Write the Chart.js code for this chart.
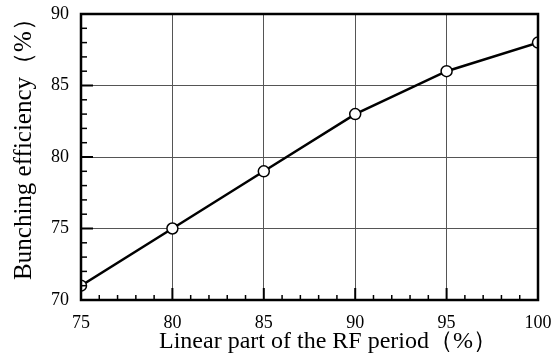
<!DOCTYPE html>
<html>
<head>
<meta charset="utf-8">
<script src="https://cdn.jsdelivr.net/npm/chart.js@4"></script>
<style>
  html, body { margin: 0; padding: 0; background: #fff; }
  #wrap { width: 553px; height: 358px; }
</style>
</head>
<body>
<div id="wrap"><canvas id="chart"></canvas></div>
<script>
const linearPart = [75, 80, 85, 90, 95, 100];
const efficiency = [71, 75, 79, 83, 86, 88];
const xTicks = [75, 80, 85, 90, 95, 100];
const yTicks = [70, 75, 80, 85, 90];
const xTitle = "Linear part of the RF period（%）";
const yTitle = "Bunching efficiency（%）";

const SERIF = "'Liberation Serif', 'Times New Roman', serif";

// frame, inward minor ticks and heavier major tick stubs
const framePlugin = {
  id: "frame",
  afterDatasetsDraw(chart) {
    const { ctx, chartArea: a, scales } = chart;
    ctx.save();
    ctx.strokeStyle = "#000";
    ctx.lineCap = "butt";

    ctx.lineWidth = 1.5;
    for (let v = 76; v < 100; v++) {
      if (v % 5 === 0) continue;
      const px = scales.x.getPixelForValue(v);
      ctx.beginPath();
      ctx.moveTo(px, a.bottom);
      ctx.lineTo(px, a.bottom - 5);
      ctx.stroke();
    }
    for (let v = 71; v < 90; v++) {
      if (v % 5 === 0) continue;
      const py = scales.y.getPixelForValue(v);
      ctx.beginPath();
      ctx.moveTo(a.left, py);
      ctx.lineTo(a.left + 6, py);
      ctx.stroke();
    }

    ctx.lineWidth = 2;
    xTicks.forEach((v) => {
      const px = scales.x.getPixelForValue(v);
      ctx.beginPath();
      ctx.moveTo(px, a.bottom);
      ctx.lineTo(px, a.bottom - 12);
      ctx.stroke();
    });
    yTicks.forEach((v) => {
      const py = scales.y.getPixelForValue(v);
      ctx.beginPath();
      ctx.moveTo(a.left, py);
      ctx.lineTo(a.left + 12, py);
      ctx.stroke();
    });

    ctx.lineWidth = 2.5;
    ctx.strokeRect(a.left, a.top, a.right - a.left, a.bottom - a.top);
    ctx.restore();
  },
  afterDraw(chart) {
    const { ctx } = chart;
    ctx.save();
    ctx.fillStyle = "#000";
    ctx.textAlign = "center";
    ctx.textBaseline = "alphabetic";
    ctx.font = "24px " + SERIF;
    ctx.fillText(xTitle, 328, 348);

    ctx.font = "25px " + SERIF;
    ctx.translate(31, 143);
    ctx.rotate(-Math.PI / 2);
    ctx.fillText(yTitle, 0, 0);
    ctx.restore();
  },
};

// keep tick labels from pushing the plot area inward
function noPad(s) {
  s.paddingLeft = 0;
  s.paddingRight = 0;
  s.paddingTop = 0;
  s.paddingBottom = 0;
}

new Chart(document.getElementById("chart"), {
  type: "line",
  data: {
    datasets: [
      {
        data: linearPart.map((x, i) => ({ x: x, y: efficiency[i] })),
        borderColor: "#000",
        borderWidth: 2.5,
        tension: 0,
        pointRadius: 5.5,
        pointBackgroundColor: "#fff",
        pointBorderColor: "#000",
        pointBorderWidth: 1.5,
      },
    ],
  },
  options: {
    responsive: true,
    maintainAspectRatio: false,
    animation: false,
    layout: { padding: { top: 14, right: 15, left: 0, bottom: 0 } },
    plugins: { legend: { display: false }, tooltip: { enabled: false } },
    scales: {
      x: {
        type: "linear",
        min: 75,
        max: 100,
        afterBuildTicks: (s) => { s.ticks = xTicks.map((v) => ({ value: v })); },
        afterFit: (s) => { s.height = 58; noPad(s); },
        grid: { color: "#555", lineWidth: 1, drawTicks: false },
        border: { display: false },
        ticks: { color: "#000", font: { family: SERIF, size: 18 }, padding: 12, maxRotation: 0 },
      },
      y: {
        type: "linear",
        min: 70,
        max: 90,
        afterBuildTicks: (s) => { s.ticks = yTicks.map((v) => ({ value: v })); },
        afterFit: (s) => { s.width = 81; noPad(s); },
        grid: { color: "#555", lineWidth: 1, drawTicks: false },
        border: { display: false },
        ticks: { color: "#000", font: { family: SERIF, size: 18 }, padding: 12 },
      },
    },
  },
  plugins: [framePlugin],
});
</script>
</body>
</html>
